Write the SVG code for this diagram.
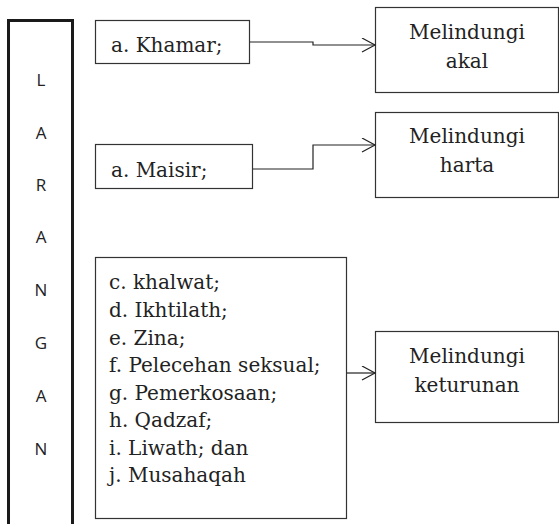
<svg xmlns="http://www.w3.org/2000/svg" width="559" height="524" viewBox="0 0 559 524">
  <style>
    .box { fill: #ffffff; stroke: #333333; stroke-width: 1.2; }
    .tall { fill: #ffffff; stroke: #1a1a1a; stroke-width: 3; }
    .ser { font-family: "DejaVu Serif", "Liberation Serif", serif; font-size: 20px; fill: #222222; }
    .mid { text-anchor: middle; }
    .sans { font-family: "Open Sans", "Liberation Sans", sans-serif; font-size: 17px; fill: #222222; text-anchor: middle; }
    .conn { fill: none; stroke: #222222; stroke-width: 1.2; }
  </style>
  <defs>
    <marker id="arr" markerWidth="16" markerHeight="16" refX="14" refY="7" orient="auto" markerUnits="userSpaceOnUse">
      <path d="M1,0 L14,7 L1,14" fill="none" stroke="#222222" stroke-width="1.2"/>
    </marker>
  </defs>
  <g id="larangan">
    <path class="tall" d="M8.5,530 L8.5,20.5 L72.5,20.5 L72.5,530"/>
    <text class="sans" x="41" y="86">L</text>
    <text class="sans" x="41" y="139">A</text>
    <text class="sans" x="41" y="191">R</text>
    <text class="sans" x="41" y="243">A</text>
    <text class="sans" x="41" y="296">N</text>
    <text class="sans" x="41" y="349">G</text>
    <text class="sans" x="41" y="402">A</text>
    <text class="sans" x="41" y="455">N</text>
  </g>
  <g id="khamar">
    <rect class="box" x="95.5" y="20.5" width="154" height="43"/>
    <text class="ser" x="111" y="52">a. Khamar;</text>
  </g>
  <g id="maisir">
    <rect class="box" x="95.5" y="144.5" width="157" height="44"/>
    <text class="ser" x="111" y="177">a. Maisir;</text>
  </g>
  <g id="list">
    <rect class="box" x="95.5" y="257.5" width="251" height="261"/>
    <text class="ser" x="109" y="289">c. khalwat;</text>
    <text class="ser" x="109" y="317">d. Ikhtilath;</text>
    <text class="ser" x="109" y="345">e. Zina;</text>
    <text class="ser" x="109" y="372">f. Pelecehan seksual;</text>
    <text class="ser" x="109" y="400">g. Pemerkosaan;</text>
    <text class="ser" x="109" y="427">h. Qadzaf;</text>
    <text class="ser" x="109" y="455">i. Liwath; dan</text>
    <text class="ser" x="109" y="482">j. Musahaqah</text>
  </g>
  <g id="akal">
    <rect class="box" x="375.5" y="7.5" width="183" height="85"/>
    <text class="ser mid" x="467" y="39">Melindungi</text>
    <text class="ser mid" x="467" y="68">akal</text>
  </g>
  <g id="harta">
    <rect class="box" x="375.5" y="112.5" width="183" height="85"/>
    <text class="ser mid" x="467" y="143">Melindungi</text>
    <text class="ser mid" x="467" y="172">harta</text>
  </g>
  <g id="keturunan">
    <rect class="box" x="375.5" y="331.5" width="183" height="91"/>
    <text class="ser mid" x="467" y="363">Melindungi</text>
    <text class="ser mid" x="467" y="392">keturunan</text>
  </g>
  <g id="connectors">
    <path class="conn" d="M250,42 L313,42 L313,45 L375,45" marker-end="url(#arr)"/>
    <path class="conn" d="M253,169 L313,169 L313,145 L375,145" marker-end="url(#arr)"/>
    <path class="conn" d="M347,373 L375,373" marker-end="url(#arr)"/>
  </g>
</svg>
